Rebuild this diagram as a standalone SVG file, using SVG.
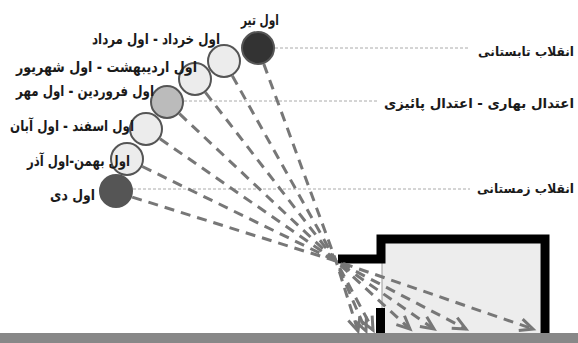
<svg xmlns="http://www.w3.org/2000/svg" width="578" height="343" viewBox="0 0 578 343">
  <style>
    .lbl { font-family: "DejaVu Sans", "Noto Sans", sans-serif; font-weight: bold; font-size: 15px; fill: #1a1a1a; }
    .season { font-size: 12.5px; }
    .sun { stroke: #555; stroke-width: 2; }
    .guide { fill: none; stroke: #aaa; stroke-width: 1; stroke-dasharray: 3 2; }
    .ray { fill: none; stroke: #777; stroke-width: 3; stroke-dasharray: 10 7; marker-end: url(#chev); }
    .wall { fill: none; stroke: #000; stroke-width: 9; stroke-linejoin: miter; }
  </style>
  <defs>
    <marker id="chev" markerUnits="userSpaceOnUse" markerWidth="20" markerHeight="20" refX="0" refY="0" viewBox="-16 -10 20 20" orient="auto" overflow="visible">
      <path d="M-13,-6 L0,0 L-13,6" fill="none" stroke="#777" stroke-width="3"/>
    </marker>
  </defs>

  <rect width="578" height="343" fill="#fff"/>

  <!-- ground -->
  <rect id="ground" x="0" y="333" width="578" height="10" fill="#888"/>

  <!-- building section -->
  <g id="building">
    <rect x="382" y="243" width="158" height="90" fill="#ededed"/>
    <line x1="382" y1="263" x2="382" y2="308" stroke="#999" stroke-width="1"/>
    <polyline class="wall" points="338,259 381,259 381,239 545,239 545,333"/>
    <rect x="376" y="308" width="9" height="25" fill="#000"/>
  </g>

  <!-- sun position guides -->
  <g id="guides">
    <line class="guide" x1="275" y1="48" x2="470" y2="48"/>
    <line class="guide" x1="184" y1="101" x2="378" y2="101"/>
    <line class="guide" x1="133" y1="189" x2="470" y2="189"/>
  </g>

  <!-- sun rays through the window -->
  <g id="connectors">
    <polyline class="ray" points="263.8,64 336,261 358,331"/>
    <polyline class="ray" points="232.3,75.8 336,261 366,331"/>
    <polyline class="ray" points="205.4,92.4 336,261 373,330"/>
    <polyline class="ray" points="179.4,113.7 336,261 410,329"/>
    <polyline class="ray" points="160,138.7 336,261 434,329"/>
    <polyline class="ray" points="142.3,166.5 336,261 466,329"/>
    <polyline class="ray" points="132.2,197.1 336,261 533,329"/>
  </g>

  <!-- sun positions -->
  <g id="sun-tir">
    <circle class="sun" cx="258" cy="48" r="16" fill="#333"/>
    <text class="lbl" x="241" y="25" textLength="38" lengthAdjust="spacingAndGlyphs">اول تیر</text>
  </g>
  <g id="sun-khordad">
    <circle class="sun" cx="224" cy="61" r="16" fill="#ececec"/>
    <text class="lbl" x="92" y="44" textLength="128" lengthAdjust="spacingAndGlyphs">اول خرداد - اول مرداد</text>
  </g>
  <g id="sun-ordibehesht">
    <circle class="sun" cx="195" cy="79" r="16" fill="#ececec"/>
    <text class="lbl" x="16" y="72" textLength="181" lengthAdjust="spacingAndGlyphs">اول اردیبهشت - اول شهریور</text>
  </g>
  <g id="sun-farvardin">
    <circle class="sun" cx="167" cy="102" r="16" fill="#bbb"/>
    <text class="lbl" x="16" y="96" textLength="138" lengthAdjust="spacingAndGlyphs">اول فروردین - اول مهر</text>
  </g>
  <g id="sun-esfand">
    <circle class="sun" cx="146" cy="129" r="16" fill="#ececec"/>
    <text class="lbl" x="10" y="131" textLength="124" lengthAdjust="spacingAndGlyphs">اول اسفند - اول آبان</text>
  </g>
  <g id="sun-bahman">
    <circle class="sun" cx="127" cy="159" r="16" fill="#ececec"/>
    <text class="lbl" x="27" y="166" textLength="103" lengthAdjust="spacingAndGlyphs">اول بهمن-اول آذر</text>
  </g>
  <g id="sun-dey">
    <circle class="sun" cx="116" cy="191" r="16" fill="#555"/>
    <text class="lbl" x="50" y="200" textLength="45" lengthAdjust="spacingAndGlyphs">اول دی</text>
  </g>

  <!-- season labels -->
  <g id="summer-solstice">
    <text class="lbl season" x="478" y="56" textLength="96" lengthAdjust="spacingAndGlyphs">انقلاب تابستانی</text>
  </g>
  <g id="equinox">
    <text class="lbl" x="384" y="108" textLength="190" lengthAdjust="spacingAndGlyphs" style="font-size:13.5px">اعتدال بهاری - اعتدال پائیزی</text>
  </g>
  <g id="winter-solstice">
    <text class="lbl season" x="477" y="193" textLength="97" lengthAdjust="spacingAndGlyphs">انقلاب زمستانی</text>
  </g>
</svg>
